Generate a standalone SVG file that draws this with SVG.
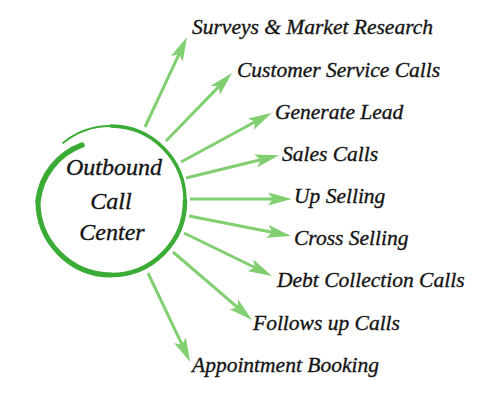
<svg xmlns="http://www.w3.org/2000/svg" width="500" height="400" viewBox="0 0 500 400">
<style>
.lbl{font-family:"Liberation Serif","Times New Roman",serif;font-style:italic;font-size:21.5px;fill:#141414;stroke:#141414;stroke-width:0.35}
.ctr{font-family:"Liberation Serif","Times New Roman",serif;font-style:italic;font-size:24px;fill:#141414;stroke:#141414;stroke-width:0.35;text-anchor:middle}
.ring{fill:none;stroke:#3aab34;stroke-linecap:round}
.arr{stroke:#82cf72;stroke-width:3;fill:none;marker-end:url(#ah)}
</style>
<defs>
<marker id="ah" markerUnits="userSpaceOnUse" markerWidth="26" markerHeight="14" viewBox="0 -7 26 14" refX="6" refY="0" orient="auto">
<path d="M24,0 L0,-6.5 L5,0 L0,6.5 Z" fill="#82cf72"/>
</marker>
</defs>
<rect width="500" height="400" fill="#ffffff"/>
<g id="connectors">
<path class="arr" d="M145,127 L179.4,53.3"/>
<path class="arr" d="M166,141 L219.5,85.9"/>
<path class="arr" d="M181,162 L256.1,121.3"/>
<path class="arr" d="M186,178 L261.6,159.5"/>
<path class="arr" d="M190,199 L274,199"/>
<path class="arr" d="M189,216 L273.3,232.5"/>
<path class="arr" d="M184,233 L255.9,268"/>
<path class="arr" d="M173,252 L238.4,308.2"/>
<path class="arr" d="M148,273 L182.5,345.7"/>
</g>
<g id="center">
<path class="ring" stroke-width="5.5" d="M82,145 A68,68 0 0 0 38,201"/>
<path class="ring" stroke-width="5" d="M38,201 A73.5,73.5 0 0 0 111,275"/>
<path class="ring" stroke-width="4.5" d="M111,275 A74,74 0 0 0 185,201"/>
<path class="ring" stroke-width="3.5" d="M185,201 A74.5,74.5 0 0 0 111,126"/>
<path class="ring" stroke-width="1.8" d="M111,126 A75,75 0 0 0 63,143"/>
<text class="ctr" x="114" y="175">Outbound</text>
<text class="ctr" x="111" y="209">Call</text>
<text class="ctr" x="112" y="240">Center</text>
</g>
<g id="n1"><text class="lbl" x="192" y="34">Surveys &amp; Market Research</text></g>
<g id="n2"><text class="lbl" x="237" y="77">Customer Service Calls</text></g>
<g id="n3"><text class="lbl" x="275" y="119">Generate Lead</text></g>
<g id="n4"><text class="lbl" x="282" y="161">Sales Calls</text></g>
<g id="n5"><text class="lbl" x="294" y="203">Up Selling</text></g>
<g id="n6"><text class="lbl" x="294" y="245">Cross Selling</text></g>
<g id="n7"><text class="lbl" x="277" y="287">Debt Collection Calls</text></g>
<g id="n8"><text class="lbl" x="253" y="330">Follows up Calls</text></g>
<g id="n9"><text class="lbl" x="192" y="372">Appointment Booking</text></g>
</svg>
